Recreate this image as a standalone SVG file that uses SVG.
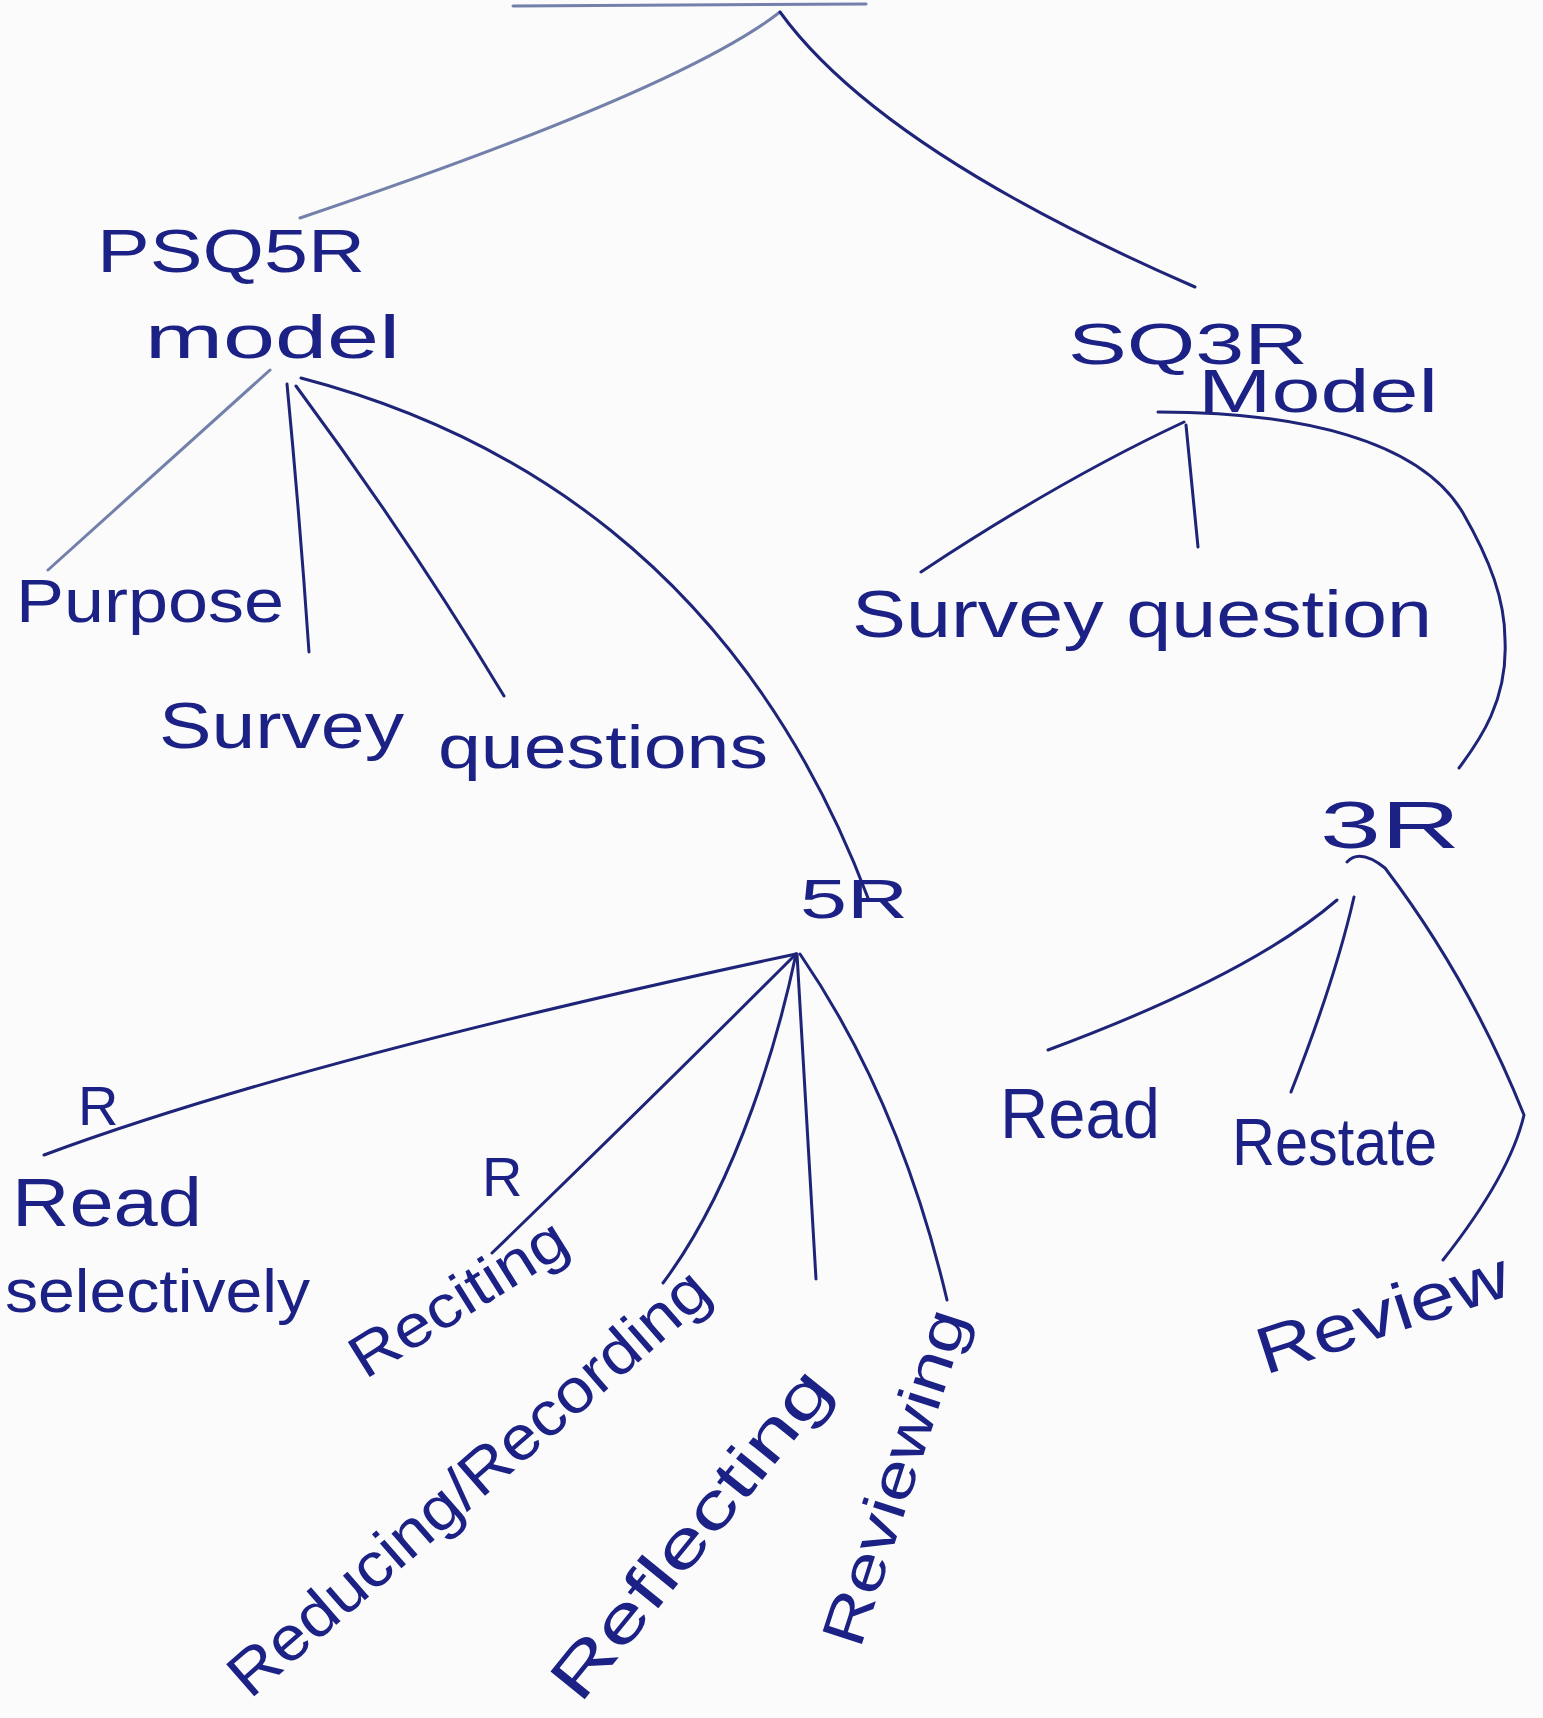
<svg xmlns="http://www.w3.org/2000/svg" width="1543" height="1718" viewBox="0 0 1543 1718">
<style>
.t{font-family:"Liberation Sans","DejaVu Sans",sans-serif;fill:#1c2185;}
.c{fill:none;stroke:#1e2478;stroke-width:3;stroke-linecap:round;stroke-linejoin:round;}
.g{fill:none;stroke:#7280aa;stroke-width:3;stroke-linecap:round;}
</style>
<rect x="0" y="0" width="1543" height="1718" fill="#fbfbfb"/>
<g id="title"><path class="g" d="M513,6 L866,4"/></g>
<g id="connectors">
<path class="g" d="M780,12 Q680,90 300,218"/>
<path class="c" d="M780,12 Q880,150 1195,287"/>
<path class="g" d="M270,370 Q170,460 48,570"/>
<path class="c" d="M287,384 Q300,520 309,652"/>
<path class="c" d="M296,386 Q410,540 504,696"/>
<path class="c" d="M301,378 C500,430 740,560 868,898"/>
<path class="c" d="M1158,412 C1300,412 1420,440 1463,513 C1490,560 1505,600 1505,640 C1508,700 1480,740 1459,768"/>
<path class="c" d="M1184,422 Q1060,480 921,572"/>
<path class="c" d="M1186,425 L1198,547"/>
<path class="c" d="M796,954 Q300,1060 44,1155"/>
<path class="c" d="M796,954 Q650,1100 492,1253"/>
<path class="c" d="M796,954 C780,1030 740,1180 663,1283"/>
<path class="c" d="M797,954 L816,1279"/>
<path class="c" d="M800,954 Q900,1100 947,1300"/>
<path class="c" d="M1337,900 Q1250,975 1048,1050"/>
<path class="c" d="M1354,897 Q1335,980 1291,1092"/>
<path class="c" d="M1347,862 Q1360,848 1385,868 Q1470,980 1524,1115 Q1510,1175 1443,1260"/>
</g>
<g id="psq5r"><text class="t" x="97" y="272" font-size="62" textLength="268" lengthAdjust="spacingAndGlyphs">PSQ5R</text><text class="t" x="145" y="358" font-size="62" textLength="255" lengthAdjust="spacingAndGlyphs">model</text></g>
<g id="sq3r"><text class="t" x="1068" y="364" font-size="58" textLength="240" lengthAdjust="spacingAndGlyphs">SQ3R</text><text class="t" x="1198" y="412" font-size="62" textLength="240" lengthAdjust="spacingAndGlyphs">Model</text></g>
<g id="purpose"><text class="t" x="16" y="622" font-size="62" textLength="268" lengthAdjust="spacingAndGlyphs">Purpose</text></g>
<g id="survey"><text class="t" x="159" y="748" font-size="64" textLength="245" lengthAdjust="spacingAndGlyphs">Survey</text></g>
<g id="questions"><text class="t" x="438" y="768" font-size="62" textLength="330" lengthAdjust="spacingAndGlyphs">questions</text></g>
<g id="survey-question"><text class="t" x="852" y="637" font-size="66" textLength="580" lengthAdjust="spacingAndGlyphs">Survey question</text></g>
<g id="n5r"><text class="t" x="800" y="918" font-size="56" textLength="108" lengthAdjust="spacingAndGlyphs">5R</text></g>
<g id="n3r"><text class="t" x="1320" y="848" font-size="66" textLength="140" lengthAdjust="spacingAndGlyphs">3R</text></g>
<g id="read-selectively"><text class="t" x="78" y="1125" font-size="56">R</text><text class="t" x="12" y="1226" font-size="68" textLength="190" lengthAdjust="spacingAndGlyphs">Read</text><text class="t" x="5" y="1312" font-size="62" textLength="305" lengthAdjust="spacingAndGlyphs">selectively</text></g>
<g id="reciting"><text class="t" x="482" y="1196" font-size="56">R</text><text class="t" font-size="60" textLength="245" lengthAdjust="spacingAndGlyphs" transform="translate(365,1380) rotate(-32)">Reciting</text></g>
<g id="reducing"><text class="t" font-size="62" textLength="615" lengthAdjust="spacingAndGlyphs" transform="translate(250,1700) rotate(-41)">Reducing/Recording</text></g>
<g id="reflecting"><text class="t" font-size="64" textLength="405" lengthAdjust="spacingAndGlyphs" transform="translate(580,1705) rotate(-51)">Reflecting</text></g>
<g id="reviewing"><text class="t" font-size="60" textLength="350" lengthAdjust="spacingAndGlyphs" transform="translate(860,1650) rotate(-72)">Reviewing</text></g>
<g id="read"><text class="t" x="1000" y="1138" font-size="70" textLength="160" lengthAdjust="spacingAndGlyphs">Read</text></g>
<g id="restate"><text class="t" x="1232" y="1165" font-size="66" textLength="205" lengthAdjust="spacingAndGlyphs">Restate</text></g>
<g id="review"><text class="t" font-size="66" textLength="262" lengthAdjust="spacingAndGlyphs" transform="translate(1265,1375) rotate(-18)">Review</text></g>
</svg>
